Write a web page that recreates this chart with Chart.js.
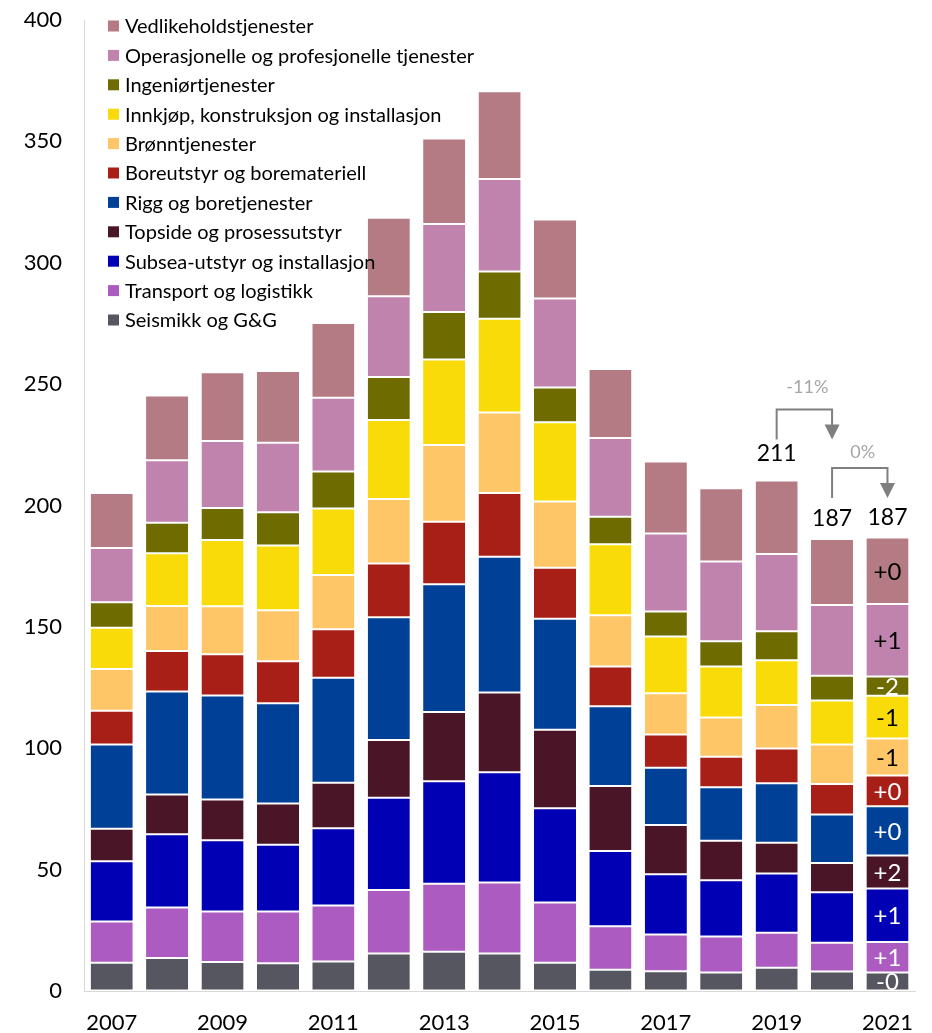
<!DOCTYPE html>
<html>
<head>
<meta charset="utf-8">
<script src="https://cdn.jsdelivr.net/npm/chart.js@4.4.0/dist/chart.umd.min.js"></script>
<style>
html,body{margin:0;padding:0;background:#fff;}
#wrap{width:932px;height:1033px;position:relative;}
</style>
</head>
<body>
<div id="wrap"><canvas id="c"></canvas></div>
<script>
const years = ['2007','2008','2009','2010','2011','2012','2013','2014','2015','2016','2017','2018','2019','2020','2021'];
const yTicks = [0,50,100,150,200,250,300,350,400];

const seismikk      = [11.6, 13.6, 11.9, 11.4, 12.2, 15.4, 16.2, 15.4, 11.6, 8.8, 8.1, 7.6, 9.6, 8.0, 7.6];
const transport     = [17.0, 20.8, 20.8, 21.3, 23.0, 26.2, 28.0, 29.3, 24.9, 17.9, 15.2, 14.8, 14.4, 11.9, 12.6];
const subsea        = [24.8, 30.2, 29.4, 27.5, 31.8, 38.0, 42.2, 45.4, 38.8, 31.0, 24.8, 23.2, 24.4, 20.8, 22.0];
const topside       = [13.4, 16.3, 16.8, 17.0, 18.8, 23.8, 28.5, 32.9, 32.3, 26.7, 20.3, 16.3, 12.7, 12.0, 13.6];
const rigg          = [34.7, 42.5, 42.8, 41.3, 43.2, 50.6, 52.7, 55.9, 45.7, 32.9, 23.6, 22.0, 24.5, 20.0, 20.3];
const boreutstyr    = [13.9, 16.7, 17.0, 17.3, 20.0, 22.1, 25.7, 26.3, 21.1, 16.4, 13.7, 12.6, 14.3, 12.6, 12.7];
const bronn         = [17.2, 18.5, 19.8, 21.1, 22.4, 26.6, 31.6, 33.1, 27.2, 21.1, 17.0, 16.2, 17.9, 16.2, 15.2];
const innkjop       = [17.0, 21.7, 27.3, 26.6, 27.4, 32.5, 35.2, 38.6, 32.7, 29.2, 23.3, 21.0, 18.4, 18.2, 17.6];
const ingenior      = [10.5, 12.6, 13.2, 13.7, 15.2, 17.7, 19.6, 19.5, 14.3, 11.4, 10.3, 10.4, 12.0, 10.2, 8.0];
const operasjonelle = [22.4, 25.7, 27.6, 28.6, 30.4, 33.3, 36.3, 38.1, 36.7, 32.4, 32.2, 32.8, 31.8, 29.1, 29.8];
const vedlikehold   = [22.6, 26.7, 28.3, 29.6, 30.8, 32.3, 35.2, 36.2, 32.5, 28.4, 29.6, 30.2, 30.3, 27.2, 27.4];

const seriesNames = ['Seismikk og G&G','Transport og logistikk','Subsea-utstyr og installasjon','Topside og prosessutstyr','Rigg og boretjenester','Boreutstyr og boremateriell','Brønntjenester','Innkjøp, konstruksjon og installasjon','Ingeniørtjenester','Operasjonelle og profesjonelle tjenester','Vedlikeholdstjenester'];
const seriesColors = ['#565660','#AC5CC1','#0100B5','#4B1528','#004097','#A81F17','#FEC667','#F9DB09','#6E6B00','#BF83AE','#B57B84'];

// 2021 change labels (bottom to top)
const deltaLabels = ['-0','+1','+1','+2','+0','+0','-1','-1','-2','+1','+0'];
const deltaColors = ['#fff','#fff','#fff','#fff','#fff','#fff','#000','#000','#fff','#000','#000'];

// totals shown above the last bars
const totalYears = ['2019','2020','2021'];
const totalLabels = ['211','187','187'];
// change brackets
const changeFrom = ['2019','2020'];
const changeTo = ['2020','2021'];
const changeLabels = ['-11%','0%'];

const seriesData = [seismikk, transport, subsea, topside, rigg, boreutstyr, bronn, innkjop, ingenior, operasjonelle, vedlikehold];

const FONT = 'Lato, "Liberation Sans", sans-serif';

const datasets = seriesData.map((d,i)=>({
  label: seriesNames[i],
  data: d,
  backgroundColor: seriesColors[i],
  borderColor: '#ffffff',
  borderWidth: {top:1, bottom:1, left:0, right:0},
  borderSkipped: false,
  barPercentage: 0.76,
  categoryPercentage: 1.0
}));

function barTop(chart, idx){
  const n = chart.data.datasets.length;
  const el = chart.getDatasetMeta(n-1).data[idx];
  return el.y;
}
function barX(chart, idx){
  return chart.getDatasetMeta(0).data[idx].x;
}

const annotPlugin = {
  id: 'annot',
  afterDatasetsDraw(chart){
    const ctx = chart.ctx;
    ctx.save();
    // legend (top-left, inside plot)
    ctx.font = '20px ' + FONT;
    ctx.textBaseline = 'middle';
    ctx.textAlign = 'left';
    const n = chart.data.datasets.length;
    for(let k=0;k<n;k++){
      const ds = chart.data.datasets[n-1-k];
      const cy = 26 + k*29.4;
      ctx.fillStyle = ds.backgroundColor;
      ctx.fillRect(108, cy-5.5, 11, 11);
      ctx.fillStyle = '#000';
      ctx.fillText(ds.label, 125, cy+1);
    }
    // delta labels in last bar
    const last = years.length-1;
    ctx.font = '24px ' + FONT;
    ctx.textAlign = 'center';
    for(let i=0;i<n;i++){
      const el = chart.getDatasetMeta(i).data[last];
      const cy = (el.y + el.base)/2;
      ctx.fillStyle = deltaColors[i];
      ctx.fillText(deltaLabels[i], el.x, cy+1);
    }
    // totals
    ctx.font = '23px ' + FONT;
    ctx.fillStyle = '#000';
    const totOff = [27, 20, 20];
    totalYears.forEach((y,k)=>{
      const idx = years.indexOf(y);
      ctx.fillText(totalLabels[k], barX(chart,idx), barTop(chart,idx)-totOff[k]);
    });
    // brackets
    const labOff = [22, 16];
    changeFrom.forEach((y,k)=>{
      const i0 = years.indexOf(y), i1 = years.indexOf(changeTo[k]);
      const x0 = barX(chart,i0), x1 = barX(chart,i1);
      const y0 = barTop(chart,i0) - 41;
      const yt = y0 - 30;
      ctx.strokeStyle = '#7f7f7f';
      ctx.fillStyle = '#7f7f7f';
      ctx.lineWidth = 2;
      ctx.beginPath();
      ctx.moveTo(x0, y0);
      ctx.lineTo(x0, yt);
      ctx.lineTo(x1, yt);
      ctx.lineTo(x1, y0-14);
      ctx.stroke();
      ctx.beginPath();
      ctx.moveTo(x1-7.5, y0-15);
      ctx.lineTo(x1+7.5, y0-15);
      ctx.lineTo(x1, y0);
      ctx.closePath();
      ctx.fill();
      ctx.font = '18px ' + FONT;
      ctx.fillStyle = '#a6a6a6';
      ctx.fillText(changeLabels[k], (x0+x1)/2 + 3, yt - labOff[k]);
    });
    ctx.restore();
  }
};

new Chart(document.getElementById('c'), {
  type: 'bar',
  data: { labels: years, datasets },
  options: {
    responsive: true,
    maintainAspectRatio: false,
    animation: false,
    layout: { padding: { top: 20, right: 0, left: 0, bottom: 0 } },
    plugins: { legend: { display: false }, tooltip: { enabled: false } },
    scales: {
      x: {
        stacked: true,
        grid: { display: false, drawTicks: false },
        border: { display: true, color: '#d9d9d9', width: 1 },
        ticks: {
          autoSkip: false, maxRotation: 0, padding: 19,
          color: '#000', font: { family: FONT, size: 22 },
          callback: function(v, i){ return i % 2 === 0 ? this.getLabelForValue(v) : ''; }
        },
        afterFit(s){ s.height = 42; }
      },
      y: {
        stacked: true,
        min: 0, max: 400,
        grid: { display: true, drawOnChartArea: false, drawTicks: true, tickLength: 22, tickColor: 'rgba(0,0,0,0)' },
        border: { display: true, color: '#d9d9d9', width: 1 },
        afterBuildTicks(s){ s.ticks = yTicks.map(v=>({value:v})); },
        ticks: { padding: 0, color: '#000', font: { family: FONT, size: 22 } },
        afterFit(s){ s.width = 84; }
      }
    }
  },
  plugins: [annotPlugin]
});
</script>
</body>
</html>
